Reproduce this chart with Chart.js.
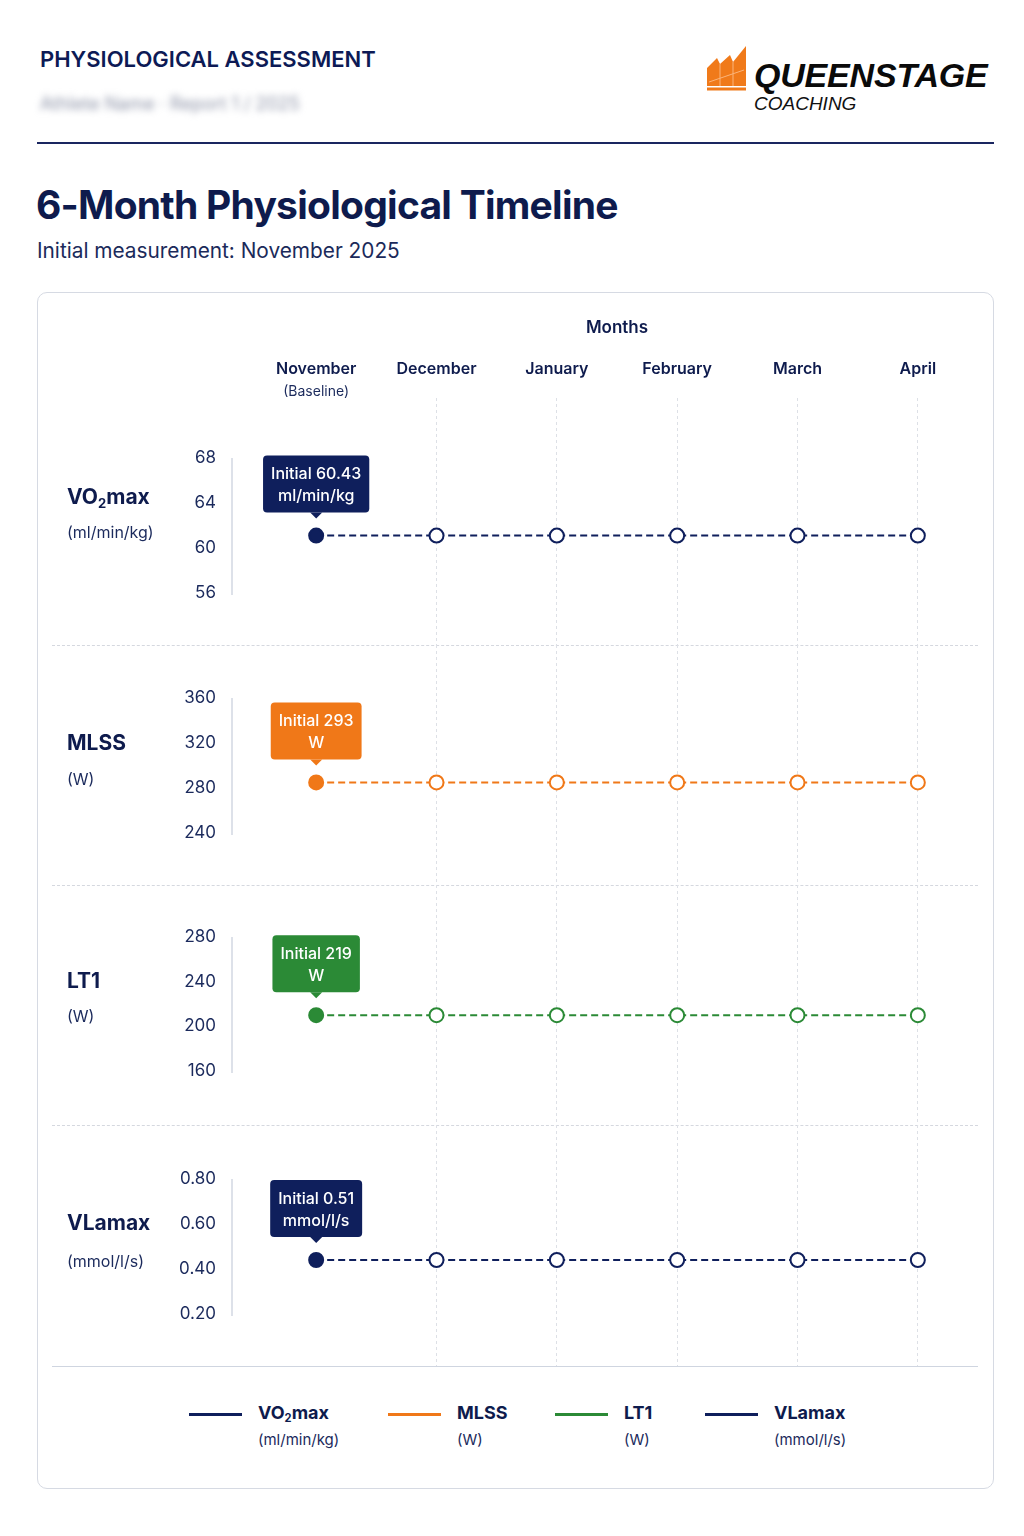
<!DOCTYPE html>
<html>
<head>
<meta charset="utf-8">
<script src="https://cdn.jsdelivr.net/npm/chart.js@4.4.0/dist/chart.umd.min.js"></script>
<style>
  body { margin: 0; background: #ffffff; font-family: Inter, "Noto Sans", sans-serif; color: #0e1b4d; }
  #page { position: relative; width: 1024px; height: 1536px; overflow: hidden; }
  .abs { position: absolute; white-space: nowrap; }
  .kicker { left: 40px; top: 47px; font-size: 22px; line-height: 24px; font-weight: 600; color: #0d1a55; }
  .athlete { left: 40px; top: 93px; font-size: 18px; line-height: 22px; color: #8e94a8; filter: blur(3.5px); }
  .brand { left: 754px; top: 55px; font-family: "Liberation Sans", Arial, sans-serif; font-size: 34px; line-height: 40px; font-weight: 700; font-style: italic; color: #0a0a0a; letter-spacing: -0.2px; }
  .brand-sub { left: 754px; top: 93px; font-family: "Liberation Sans", Arial, sans-serif; font-size: 19px; line-height: 22px; font-style: italic; color: #111; }
  .rule { left: 37px; top: 142px; width: 957px; height: 2px; background: #1a2660; }
  .title { left: 36px; top: 181px; font-size: 39px; line-height: 48px; font-weight: 700; color: #0e1b4d; letter-spacing: -0.75px; }
  .subtitle { left: 37px; top: 239px; font-size: 20.8px; line-height: 24px; color: #1b2a5a; }
  .card { left: 37px; top: 292px; width: 955px; height: 1195px; border: 1px solid #d6dae3; border-radius: 10px; }
  .divider { left: 52px; width: 926px; height: 0; border-top: 1px dashed #d5d8df; }
  .baseline-rule { left: 52px; top: 1366px; width: 926px; height: 0; border-top: 1.5px solid #cfd5e0; }
  .pname { left: 67px; font-size: 21px; line-height: 24px; font-weight: 700; color: #0e1b4d; }
  .punit { left: 67px; font-size: 16px; line-height: 20px; color: #1b2a5c; }
  sub { font-size: 0.62em; vertical-align: -0.3em; line-height: 0; }
  .lg-line { height: 3px; width: 53px; top: 1413px; }
  .lg-name { top: 1402px; font-size: 18px; line-height: 22px; font-weight: 700; color: #0e1b4d; }
  .lg-unit { top: 1431px; font-size: 15px; line-height: 18px; color: #1b2a5c; }
  canvas { position: absolute; left: 52px; }
</style>
</head>
<body>
<div id="page">
  <div class="abs kicker">PHYSIOLOGICAL ASSESSMENT</div>
  <div class="abs athlete">Athlete Name · Report 1 / 2025</div>

  <svg class="abs" style="left:706px;top:44px" width="42" height="48" viewBox="0 0 42 48">
    <polygon points="1,24 11,14 14,20 24,11 27,18 40,2 40,42 1,42" fill="#f07a1a"/>
    <polyline points="3,38 38,26" stroke="#fbb47a" stroke-width="1" fill="none"/>
    <line x1="14" y1="20" x2="14" y2="42" stroke="#fbb47a" stroke-width="1"/>
    <line x1="27" y1="18" x2="27" y2="42" stroke="#fbb47a" stroke-width="1"/>
    <rect x="1" y="43.5" width="39" height="3" fill="#f07a1a"/>
  </svg>
  <div class="abs brand">QUEENSTAGE</div>
  <div class="abs brand-sub">COACHING</div>

  <div class="abs rule"></div>
  <div class="abs title">6-Month Physiological Timeline</div>
  <div class="abs subtitle">Initial measurement: November 2025</div>

  <div class="abs card"></div>
  <div class="abs divider" style="top:645px"></div>
  <div class="abs divider" style="top:885px"></div>
  <div class="abs divider" style="top:1125px"></div>
  <div class="abs baseline-rule"></div>

  <canvas id="c0" width="926" height="345" style="top:300px"></canvas>
  <canvas id="c1" width="926" height="240" style="top:645px"></canvas>
  <canvas id="c2" width="926" height="240" style="top:885px"></canvas>
  <canvas id="c3" width="926" height="241" style="top:1125px"></canvas>
</div>

<script>
// data
const months = ['November', 'December', 'January', 'February', 'March', 'April'];
const seriesNames = ['VO<sub>2</sub>max', 'MLSS', 'LT1', 'VLamax'];
const seriesUnits = ['ml/min/kg', 'W', 'W', 'mmol/l/s'];
const vo2maxValues = [61.1, 61.1, 61.1, 61.1, 61.1, 61.1];
const mlssValues = [285, 285, 285, 285, 285, 285];
const lt1Values = [210, 210, 210, 210, 210, 210];
const vlamaxValues = [0.44, 0.44, 0.44, 0.44, 0.44, 0.44];
const initialValues = ['60.43', '293', '219', '0.51'];
const vo2maxTicks = [56, 60, 64, 68];
const mlssTicks = [240, 280, 320, 360];
const lt1Ticks = [160, 200, 240, 280];
const vlamaxTicks = [0.2, 0.4, 0.6, 0.8];

const NAVY = '#0f1f5c';
const ORANGE = '#f07818';
const GREEN = '#2b8a36';
const FONT = 'Inter, "Noto Sans", sans-serif';

const panels = [
  { values: vo2maxValues, ticks: vo2maxTicks, color: NAVY, min: 51.38, max: 73.33, digits: 0, nameTop: 485 },
  { values: mlssValues, ticks: mlssTicks, color: ORANGE, min: 193.8, max: 407.1, digits: 0, nameTop: 731 },
  { values: lt1Values, ticks: lt1Ticks, color: GREEN, min: 111.6, max: 326.6, digits: 0, nameTop: 969 },
  { values: vlamaxValues, ticks: vlamaxTicks, color: NAVY, min: -0.031, max: 1.04, digits: 2, nameTop: 1211 }
];

// panel labels + legend (html)
const page = document.getElementById('page');
function addText(cls, html, style) {
  const d = document.createElement('div');
  d.className = 'abs ' + cls;
  d.innerHTML = html;
  Object.assign(d.style, style);
  page.appendChild(d);
}
const unitGap = [37, 38, 37, 40];
panels.forEach((p, i) => {
  addText('pname', seriesNames[i], { top: p.nameTop + 'px' });
  addText('punit', '(' + seriesUnits[i] + ')', { top: (p.nameTop + unitGap[i]) + 'px' });
});
const legendX = [189, 388, 555, 705];
panels.forEach((p, i) => {
  const x = legendX[i];
  addText('lg-line', '', { left: x + 'px', background: p.color });
  addText('lg-name', seriesNames[i], { left: (x + 69) + 'px' });
  addText('lg-unit', '(' + seriesUnits[i] + ')', { left: (x + 69) + 'px' });
});

// little vertical axis stub between the outer ticks
const axisStub = {
  id: 'axisStub',
  afterDraw(chart) {
    const y = chart.scales.y;
    const t = y.ticks;
    const ctx = chart.ctx;
    ctx.save();
    ctx.strokeStyle = '#dde1e9';
    ctx.lineWidth = 2;
    ctx.beginPath();
    ctx.moveTo(chart.chartArea.left - 24, y.getPixelForValue(t[t.length - 1].value));
    ctx.lineTo(chart.chartArea.left - 24, y.getPixelForValue(t[0].value) + 2);
    ctx.stroke();
    ctx.restore();
  }
};

// callout box above the baseline point
const initialLabel = {
  id: 'initialLabel',
  afterDatasetsDraw(chart, args, opts) {
    const pt = chart.getDatasetMeta(0).data[0];
    const ctx = chart.ctx;
    ctx.save();
    ctx.font = '500 16px ' + FONT;
    const lines = ['Initial ' + opts.value, opts.unit];
    const w = Math.max(...lines.map(l => ctx.measureText(l).width)) + 16;
    const h = 57;
    const bottom = pt.y - 23;
    const top = bottom - h;
    const left = pt.x - w / 2;
    ctx.fillStyle = opts.color;
    ctx.beginPath();
    ctx.roundRect(left, top, w, h, 4);
    ctx.fill();
    ctx.beginPath();
    ctx.moveTo(pt.x - 6, bottom);
    ctx.lineTo(pt.x + 6, bottom);
    ctx.lineTo(pt.x, bottom + 6);
    ctx.closePath();
    ctx.fill();
    ctx.fillStyle = '#ffffff';
    ctx.textAlign = 'center';
    ctx.textBaseline = 'middle';
    ctx.fillText(lines[0], pt.x, top + 19);
    ctx.fillText(lines[1], pt.x, top + 41);
    ctx.restore();
  }
};

// "(Baseline)" under the first month on the top axis
const baselineNote = {
  id: 'baselineNote',
  afterDraw(chart) {
    if (!chart.options.plugins.baselineNote.show) return;
    const x = chart.scales.x;
    const ctx = chart.ctx;
    ctx.save();
    ctx.font = '14px ' + FONT;
    ctx.fillStyle = '#1b2a5c';
    ctx.textAlign = 'center';
    ctx.textBaseline = 'middle';
    ctx.fillText('(Baseline)', x.getPixelForTick(0), x.bottom - 6);
    ctx.restore();
  }
};

panels.forEach((p, i) => {
  const first = i === 0;
  new Chart(document.getElementById('c' + i), {
    type: 'line',
    data: {
      labels: months,
      datasets: [{
        data: p.values,
        borderColor: p.color,
        borderWidth: 2,
        borderDash: [7, 4],
        tension: 0,
        pointRadius: 7,
        pointHoverRadius: 7,
        pointBorderWidth: 2,
        pointBorderColor: p.color,
        pointBackgroundColor: ctx => ctx.dataIndex === 0 ? p.color : '#ffffff',
        clip: false
      }]
    },
    options: {
      responsive: false,
      animation: false,
      layout: { padding: 0, autoPadding: false },
      plugins: {
        legend: { display: false },
        tooltip: { enabled: false },
        initialLabel: { value: initialValues[i], unit: seriesUnits[i], color: p.color },
        baselineNote: { show: first }
      },
      scales: {
        x: {
          position: 'top',
          offset: true,
          grid: {
            offset: false,
            drawTicks: false,
            lineWidth: 1,
            color: ctx => ctx.index === 0 ? 'rgba(0,0,0,0)' : '#dde0e6'
          },
          border: { display: false, dash: [3, 3] },
          ticks: {
            display: first,
            padding: 19,
            autoSkip: false,
            maxRotation: 0,
            color: '#0e1b4d',
            font: { family: FONT, size: 16, weight: '600' }
          },
          title: {
            display: first,
            text: 'Months',
            color: '#0e1b4d',
            padding: { top: 18, bottom: 0 },
            font: { family: FONT, size: 17, weight: '600' }
          },
          afterFit: s => { s.height = first ? 98 : 0; s.paddingLeft = 0; s.paddingRight = 0; }
        },
        y: {
          min: p.min,
          max: p.max,
          grid: { display: false, drawTicks: false },
          border: { display: false },
          ticks: {
            padding: 40,
            color: '#1b2a5c',
            font: { family: FONT, size: 17 },
            callback: v => Number(v).toFixed(p.digits)
          },
          afterBuildTicks: s => { s.ticks = p.ticks.map(v => ({ value: v })); },
          afterFit: s => { s.width = 204; s.paddingTop = 0; s.paddingBottom = 0; }
        }
      }
    },
    plugins: [axisStub, initialLabel, baselineNote]
  });
});
</script>
</body>
</html>
